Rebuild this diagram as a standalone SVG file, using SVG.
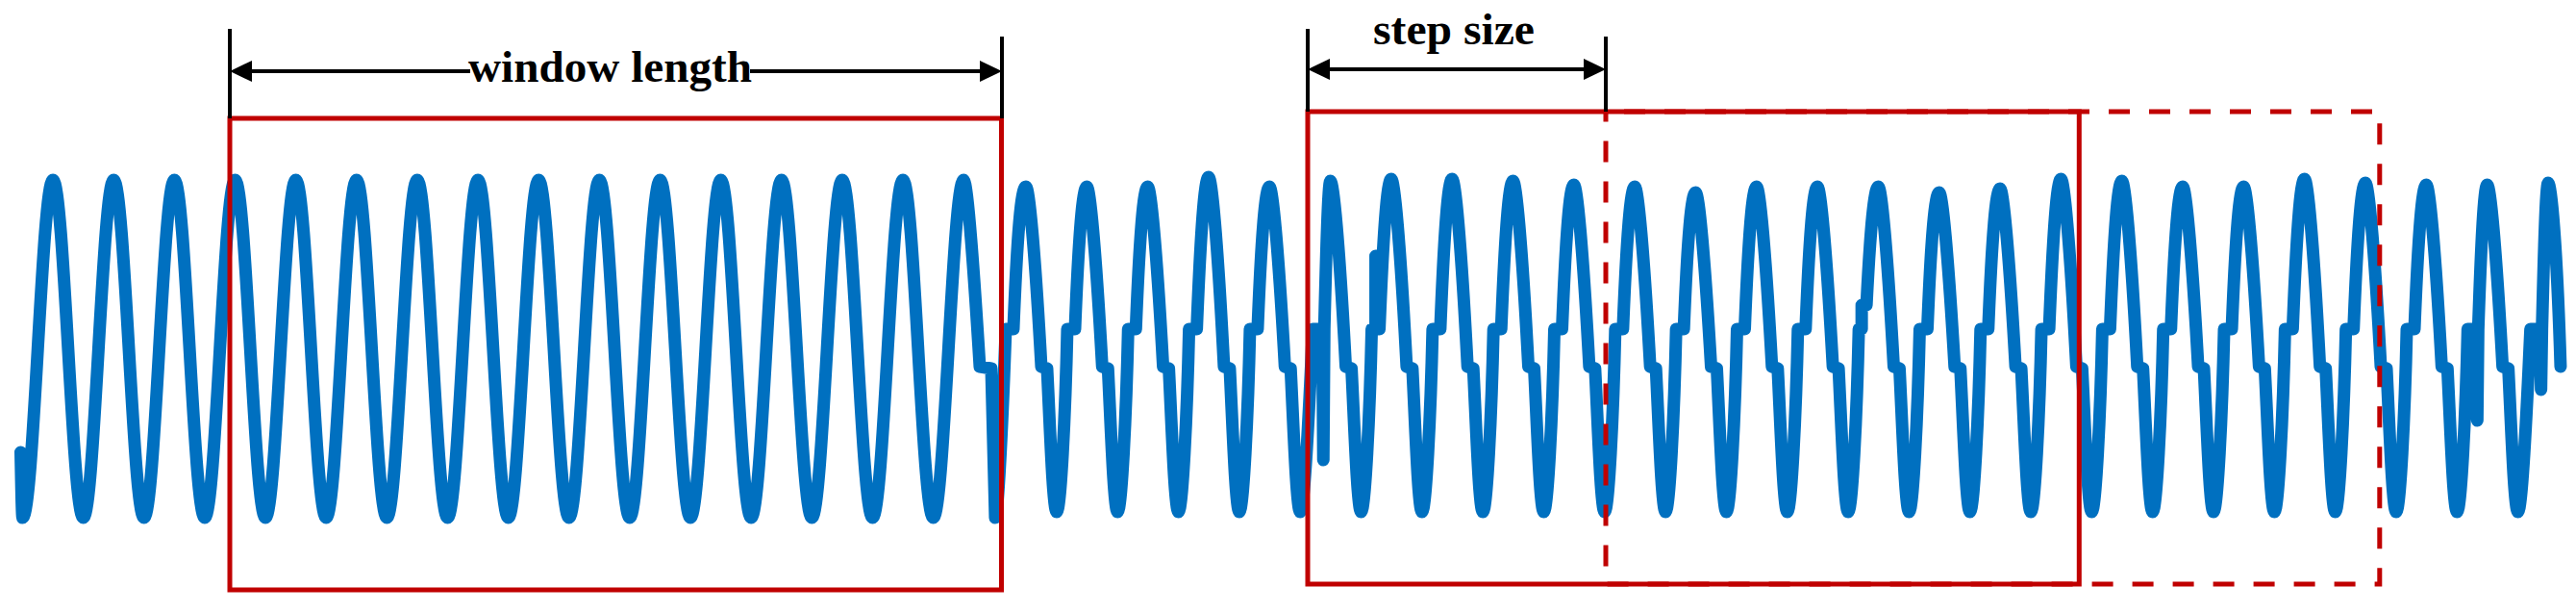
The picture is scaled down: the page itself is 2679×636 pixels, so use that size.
<svg xmlns="http://www.w3.org/2000/svg" width="2679" height="636" viewBox="0 0 2679 636">
  <style>
    .wave { fill: none; stroke: #0070C0; stroke-width: 13; stroke-linejoin: round; stroke-linecap: round; }
    .win { fill: none; stroke: #C00000; stroke-width: 5; }
    .win-dash { fill: none; stroke: #C00000; stroke-width: 5; stroke-dasharray: 22 20; stroke-dashoffset: 23; }
    .tick { stroke: #000; stroke-width: 4; }
    .dim { stroke: #000; stroke-width: 4; fill: none; }
    .lbl { font-family: "Liberation Serif", "Times New Roman", serif; font-weight: bold; font-size: 46px; fill: #000; }
  </style>
  <defs>
    <marker id="arrow" markerUnits="userSpaceOnUse" viewBox="-28 -13 30 26" markerWidth="30" markerHeight="26" refX="-5" refY="0" orient="auto-start-reverse">
      <path d="M0,0 L-23,-11 L-23,11 Z" fill="#000"/>
    </marker>
  </defs>

  <g id="signal">
    <path class="wave" d="M21.5,470 C22.3,508 22.8,538 23.5,538 c11.5,0 20.07,-351 31.57,-351
      s20.07,351 31.57,351 s20.07,-351 31.57,-351 s20.07,351 31.57,351 s20.07,-351 31.57,-351
      s20.07,351 31.57,351 s20.07,-351 31.57,-351 s20.07,351 31.57,351 s20.07,-351 31.57,-351
      s20.07,351 31.57,351 s20.07,-351 31.57,-351 s20.07,351 31.57,351 s20.07,-351 31.57,-351
      s20.07,351 31.57,351 s20.07,-351 31.57,-351 s20.07,351 31.57,351 s20.07,-351 31.57,-351
      s20.07,351 31.57,351 s20.07,-351 31.57,-351 s20.07,351 31.57,351 s20.07,-351 31.57,-351
      s20.07,351 31.57,351 s20.07,-351 31.57,-351 s20.07,351 31.57,351 s20.07,-351 31.57,-351
      s20.07,351 31.57,351 s20.07,-351 31.57,-351 s20.07,351 31.57,351 s20.07,-351 31.57,-351
      s20.07,351 31.57,351 s20.07,-351 31.57,-351
      c4,0 11,100 16.8,194 l12,2 l4,155 c3,0 8,-110 11,-196 l8,0 c4,-100 8,-148 13,-148
      c3,0 9,60 16,187 l6,2 c3,60 6,149 10,149 c4,0 9,-100 11,-190 l8,0 c4,-100 8,-148 12.32,-148
      c3,0 9,60 16,187 l6,2 c3,60 6,149 10,149 c4,0 9,-100 11,-190 l8,0 c4,-100 8,-148 12.32,-148
      c3,0 9,60 16,187 l6,2 c3,60 6,149 10,149 c4,0 9,-100 11,-190 l8,0 c4,-100 8,-158 12.32,-158
      c3,0 9,60 16,197 l6,2 c3,60 6,149 10,149 c4,0 9,-100 11,-190 l8,0 c4,-100 8,-148 12.32,-148
      c3,0 9,60 16,187 l6,2 c3,60 6,149 10,149 c4,0 9,-100 13,-190 l10,0 l1,136 l1,-136 c2,-80 4,-154 6.32,-154
      c3,0 9,60 16,193 l6,2 c3,60 6,149 10,149 c4,0 9,-100 11,-190 l4,0 l0,-76 l3,0 l1,76 c4,-100 8,-156 12.32,-156
      c3,0 9,60 16,195 l6,2 c3,60 6,149 10,149 c4,0 9,-100 11,-190 l8,0 c4,-100 8,-156 12.32,-156
      c3,0 9,60 16,195 l6,2 c3,60 6,149 10,149 c4,0 9,-100 11,-190 l8,0 c4,-100 8,-154 12.32,-154
      c3,0 9,60 16,193 l6,2 c3,60 6,149 10,149 c4,0 9,-100 11,-190 l8,0 c4,-100 8,-150 12.32,-150
      c3,0 9,60 16,189 l6,2 c3,60 6,149 10,149 c4,0 9,-100 11,-190 l8,0 c4,-100 8,-148 12.32,-148
      c3,0 9,60 16,187 l6,2 c3,60 6,149 10,149 c4,0 9,-100 11,-190 l8,0 c4,-100 8,-142 12.32,-142
      c3,0 9,60 16,181 l6,2 c3,60 6,149 10,149 c4,0 9,-100 11,-190 l8,0 c4,-100 8,-148 12.32,-148
      c3,0 9,60 16,187 l6,2 c3,60 6,149 10,149 c4,0 9,-100 11,-190 l8,0 c4,-100 8,-148 12.32,-148
      c3,0 9,60 16,187 l6,2 c3,60 6,149 10,149 c4,0 9,-100 11,-190 l3,0 l0,-25 l5,0 c4,-80 8,-123 12.32,-123
      c3,0 9,60 16,187 l6,2 c3,60 6,149 10,149 c4,0 9,-100 11,-190 l8,0 c4,-100 8,-142 12.32,-142
      c3,0 9,60 16,181 l6,2 c3,60 6,149 10,149 c4,0 9,-100 11,-190 l8,0 c4,-100 8,-146 12.32,-146
      c3,0 9,60 16,185 l6,2 c3,60 6,149 10,149 c4,0 9,-100 11,-190 l8,0 c4,-100 8,-156 12.32,-156
      c3,0 9,60 16,195 l6,2 c3,60 6,149 10,149 c4,0 9,-100 11,-190 l8,0 c4,-100 8,-154 12.32,-154
      c3,0 9,60 16,193 l6,2 c3,60 6,149 10,149 c4,0 9,-100 11,-190 l8,0 c4,-100 8,-148 12.32,-148
      c3,0 9,60 16,187 l6,2 c3,60 6,149 10,149 c4,0 9,-100 11,-190 l8,0 c4,-100 8,-148 12.32,-148
      c3,0 9,60 16,187 l6,2 c3,60 6,149 10,149 c4,0 9,-100 11,-190 l8,0 c4,-100 8,-156 12.32,-156
      c3,0 9,60 16,195 l6,2 c3,60 6,149 10,149 c4,0 9,-100 11,-190 l8,0 c4,-100 8,-152 12.32,-152
      c3,0 9,60 16,191 l6,2 c3,60 6,149 10,149 c4,0 9,-100 11,-190 l8,0 c4,-100 8,-150 12.32,-150
      c3,0 9,60 16,189 l6,2 c3,60 6,149 10,149 c4,0 9,-100 11,-190 l9,0 l1,95 l1,-95 c3,-90 6,-150 9.32,-150
      c3,0 9,60 16,189 l6,2 c3,60 6,149 10,149 c4,0 9,-100 13,-190 l10,0 l1,63 l1,-63 c2,-80 4,-152 6.32,-152
      c3,0 9,60 13,191"/>
  </g>

  <g id="window-1">
    <rect class="win" x="239" y="123" width="802.5" height="490"/>
  </g>
  <g id="window-2">
    <rect class="win" x="1360" y="116" width="802.3" height="491"/>
  </g>
  <g id="window-3-next">
    <rect class="win-dash" x="1670" y="116" width="804.8" height="491"/>
  </g>

  <g id="connectors">
    <line class="tick" x1="239" y1="30" x2="239" y2="123"/>
    <line class="tick" x1="1042" y1="38" x2="1042" y2="123"/>
    <line class="dim" x1="244" y1="74" x2="489" y2="74" marker-start="url(#arrow)"/>
    <line class="dim" x1="780" y1="74" x2="1037" y2="74" marker-end="url(#arrow)"/>
    <line class="tick" x1="1360" y1="30" x2="1360" y2="116"/>
    <line class="tick" x1="1670" y1="38" x2="1670" y2="116"/>
    <line class="dim" x1="1365" y1="72" x2="1665" y2="72" marker-start="url(#arrow)" marker-end="url(#arrow)"/>
  </g>

  <g id="label-window-length">
    <text class="lbl" x="487" y="85" textLength="295" lengthAdjust="spacingAndGlyphs">window length</text>
  </g>
  <g id="label-step-size">
    <text class="lbl" x="1428" y="46" textLength="168" lengthAdjust="spacingAndGlyphs">step size</text>
  </g>
</svg>
